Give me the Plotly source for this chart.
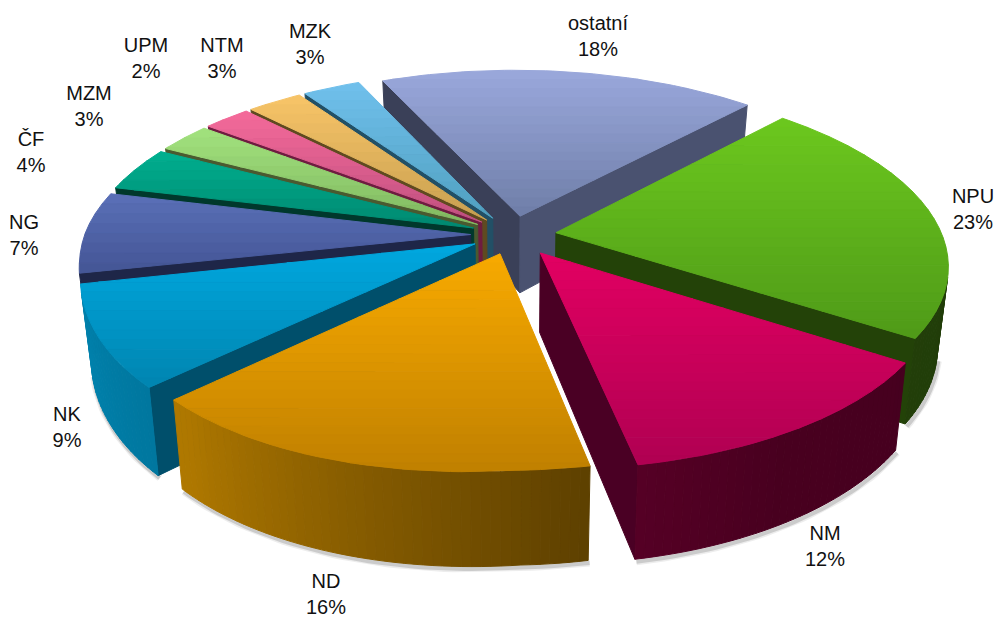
import math
import plotly.graph_objects as go

# ---- data (clockwise from the start angle) ----
names = ["ostatní", "NPU", "NM", "ND", "NK", "NG", "ČF", "MZM", "UPM", "NTM", "MZK"]
shares = [18, 23, 12, 16, 9, 7, 4, 3, 2, 3, 3]
# sweep of every slice as measured on the picture, in percent of the full turn
drawn_sweep = [18.44, 22.44, 12.69, 16.33, 8.53, 7.0, 4.0, 2.67, 2.33, 2.72, 2.83]

# ---- styles ----
top_light = ["#9aa8dc", "#6cc81e", "#e20062", "#f8aa00", "#00a8e0", "#5a70b8", "#00b090", "#a2e27e", "#f56a9a", "#f8c468", "#70c0ec"]
top_dark = ["#6f7ea8", "#4f9a18", "#b00052", "#c08000", "#0085b0", "#445595", "#008870", "#80b860", "#c05080", "#c8a050", "#50a0c0"]
wall_start = ["#3a4058", "#234208", "#4a0024", "#5f4700", "#004f6b", "#1e2648", "#00382c", "#4a5a30", "#6e1c40", "#5f4a20", "#225066"]
wall_end = ["#4a5270", "#234208", "#4a0024", "#5f4700", "#004f6b", "#1e2648", "#00382c", "#4a5a30", "#6e1c40", "#5f4a20", "#225066"]
explode = [44, 44, 48, 44, 44, 44, 44, 44, 44, 44, 44]
paint_order = ["ostatní", "MZK", "NTM", "UPM", "MZM", "ČF", "NG", "NPU", "NK", "NM", "ND"]
label_x = [598, 973, 825, 326, 67, 24, 31, 89, 146, 222, 310]
label_y = [38, 211, 548, 596, 429, 237, 154, 108, 60, 60, 46]

# ---- pie geometry ----
CX, CY = 513.5, 235
R, DEPTH = 396, 78
TILT, PERSP = 0.442, 2458
X_SCALE, SHEAR = 0.975, 0.012
WARP = 1.1e-4
START = -23.6
BOTTOM_NARROW = 0.975
SHADE_ANGLE = [60, 90, 150, 170, 200, 225, 245, 270, 330]
SHADE_VALUE = [.45, .30, .32, .38, .55, .70, .75, .80, .7]


def project(u, v, bottom=False):
    p = 1 / (1 - v / PERSP)
    x = (u * X_SCALE + SHEAR * v) * p
    x = CX + x * (BOTTOM_NARROW if bottom else 1)
    y = CY + TILT * v * p + (DEPTH * p if bottom else 0)
    y += WARP * max(0, -u) * max(0, v)
    return x, y


def polar(a, r, ox=0, oy=0):
    t = math.radians(a)
    return ox + r * math.sin(t), oy - r * math.cos(t)


def rgb(h):
    return [int(h[i:i + 2], 16) for i in (1, 3, 5)]


def mix(c1, c2, f):
    a, b = rgb(c1), rgb(c2)
    return "rgb(%d,%d,%d)" % tuple(round(a[i] + (b[i] - a[i]) * f) for i in range(3))


def shade(c, f):
    a = rgb(c)
    return "rgb(%d,%d,%d)" % tuple(round(x * f) for x in a)


def shade_at(a):
    a = a % 360
    for i in range(len(SHADE_ANGLE) - 1):
        if SHADE_ANGLE[i] <= a <= SHADE_ANGLE[i + 1]:
            f = (a - SHADE_ANGLE[i]) / (SHADE_ANGLE[i + 1] - SHADE_ANGLE[i])
            return SHADE_VALUE[i] + (SHADE_VALUE[i + 1] - SHADE_VALUE[i]) * f
    return .5


def clip_band(poly, y0, y1):
    def clip(pts, keep, yc):
        out = []
        for i in range(len(pts)):
            a, b = pts[i], pts[(i + 1) % len(pts)]
            if keep(a):
                out.append(a)
            if keep(a) != keep(b):
                f = (yc - a[1]) / (b[1] - a[1])
                out.append((a[0] + (b[0] - a[0]) * f, yc))
        return out
    res = clip(poly, lambda p: p[1] >= y0, y0)
    if res:
        res = clip(res, lambda p: p[1] <= y1, y1)
    return res


def poly_trace(pts, color):
    xs = [p[0] for p in pts] + [pts[0][0]]
    ys = [p[1] for p in pts] + [pts[0][1]]
    return go.Scatter(x=xs, y=ys, mode="lines", fill="toself", fillcolor=color,
                      line=dict(color=color, width=1), hoverinfo="skip", showlegend=False)


total = sum(drawn_sweep)
spans = {}
acc = START
for n, s in zip(names, drawn_sweep):
    spans[n] = (acc, acc + s / total * 360)
    acc += s / total * 360

fig = go.Figure()
shadow_traces = []
slice_traces = []


def visible(qa, qb):
    ax, ay = project(*qa)
    bx, by = project(*qb)
    dx, dy = project(*qa, True)
    return (bx - ax) * (dy - ay) - (by - ay) * (dx - ax) < 0


for name in paint_order:
    i = names.index(name)
    a0, a1 = spans[name]
    ox, oy = polar((a0 + a1) / 2, explode[i])
    n = max(2, int((a1 - a0) / 1.2))
    arc = [polar(a0 + (a1 - a0) * k / n, R, ox, oy) for k in range(n + 1)]
    plane = [(ox, oy)] + arc
    top = [project(*q) for q in plane]
    walls = []

    # outer wall pieces
    shadow_x, shadow_y = [], []
    for k in range(n):
        qa, qb = arc[k], arc[k + 1]
        if visible(qa, qb):
            mid = a0 + (a1 - a0) * (k + .5) / n
            col = shade(top_light[i], shade_at(mid))
            pts = [project(*qa), project(*qb), project(*qb, True), project(*qa, True)]
            walls.append(((qa[1] + qb[1]) / 2, pts, col))
            bx, by = project(*qa, True)
            shadow_x.append(bx + 1.5)
            shadow_y.append(by + 2.5)
            bx, by = project(*qb, True)
            shadow_x.append(bx + 1.5)
            shadow_y.append(by + 2.5)
    # radial walls
    for qa, qb, col in (((ox, oy), arc[0], wall_start[i]), (arc[-1], (ox, oy), wall_end[i])):
        if visible(qa, qb):
            pts = [project(*qa), project(*qb), project(*qb, True), project(*qa, True)]
            walls.append(((qa[1] + qb[1]) / 2, pts, col))
    walls.sort(key=lambda w: w[0])
    for _, pts, col in walls:
        slice_traces.append(poly_trace(pts, col))
    if shadow_x:
        for w, c in ((7, "rgba(0,0,0,0.07)"), (4, "rgba(0,0,0,0.14)")):
            shadow_traces.append(go.Scatter(x=shadow_x, y=shadow_y, mode="lines",
                                            line=dict(color=c, width=w),
                                            hoverinfo="skip", showlegend=False))
    # top face with a vertical gradient
    ys = [p[1] for p in top]
    y_min, y_max = min(ys), max(ys)
    bands = max(6, int((y_max - y_min) / 9))
    for b in range(bands):
        y0 = y_min + (y_max - y_min) * b / bands
        y1 = y_min + (y_max - y_min) * (b + 1) / bands
        part = clip_band(top, y0, y1)
        if len(part) >= 3:
            slice_traces.append(poly_trace(part, mix(top_light[i], top_dark[i], (b + .5) / bands)))

fig.add_traces(shadow_traces + slice_traces)
fig.add_trace(go.Scatter(
    x=label_x, y=label_y, mode="text",
    text=[f"{n}<br>{s}%" for n, s in zip(names, shares)],
    textposition="middle center",
    textfont=dict(family="Liberation Sans, Arial, sans-serif", size=20, color="#111111"),
    hoverinfo="skip", showlegend=False))

fig.update_layout(
    width=995, height=617, margin=dict(l=0, r=0, t=0, b=0),
    paper_bgcolor="white", plot_bgcolor="white",
    xaxis=dict(range=[0, 995], visible=False, fixedrange=True),
    yaxis=dict(range=[617, 0], visible=False, fixedrange=True),
)
fig.write_html("out.html", config={"displayModeBar": False},
               post_script="document.body.style.margin='0';")
